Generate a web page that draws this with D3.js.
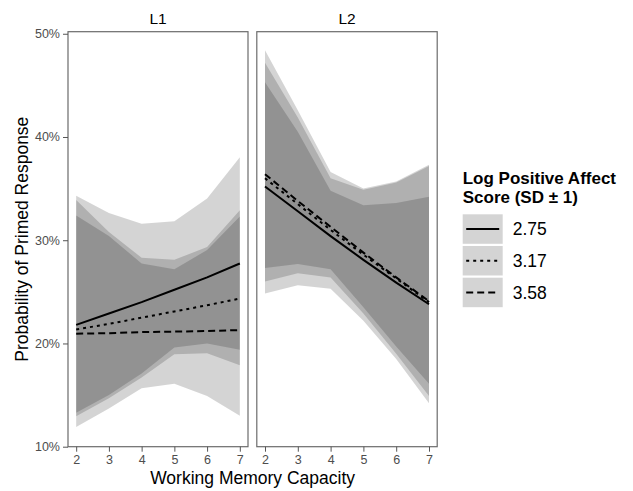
<!DOCTYPE html>
<html>
<head>
<meta charset="utf-8">
<title>primed response</title>
<script src="https://cdn.jsdelivr.net/npm/d3@7"></script>
<style>
  body { margin: 0; background: #fff; }
  text { font-family: "Liberation Sans", Arial, sans-serif; }
  .axis path { display: none; }
  .axis line { stroke: #555; }
  .axis text { fill: #4d4d4d; font-size: 12.5px; }
</style>
</head>
<body>
<script>
// working memory capacity (x) and levels
var wmc = [2, 3, 4, 5, 6, 7];
var xTicks = [2, 3, 4, 5, 6, 7];
var yTicks = [0.1, 0.2, 0.3, 0.4, 0.5];
var panelNames = ["L1", "L2"];
var levels = ["2.75", "3.17", "3.58"];
var dashes = [null, "3,4", "7,4"];

// L1 fitted values and bands (percent)
var l1Fit275 = [21.8, 22.9, 24.0, 25.2, 26.4, 27.75];
var l1Lo275  = [13.3, 15.0, 17.1, 19.6, 20.0, 19.4];
var l1Hi275  = [34.3, 32.65, 31.6, 31.85, 34.05, 38.05];
var l1Fit317 = [21.35, 21.9, 22.5, 23.1, 23.7, 24.35];
var l1Lo317  = [12.95, 14.7, 16.7, 18.95, 19.05, 17.9];
var l1Hi317  = [32.4, 30.4, 27.75, 27.2, 29.05, 32.3];
var l1Fit358 = [20.95, 21.0, 21.1, 21.15, 21.2, 21.3];
var l1Lo358  = [11.9, 13.7, 15.65, 16.1, 14.9, 13.0];
var l1Hi358  = [33.9, 30.8, 28.3, 28.1, 29.35, 32.9];

// L2 fitted values and bands (percent)
var l2Fit275 = [35.2, 32.8, 30.4, 28.1, 25.9, 23.8];
var l2Lo275  = [26.0, 26.8, 26.4, 22.9, 19.0, 14.9];
var l2Hi275  = [47.2, 41.9, 36.0, 34.9, 35.6, 37.2];
var l2Fit317 = [36.0, 33.5, 31.0, 28.6, 26.3, 24.0];
var l2Lo317  = [27.3, 27.7, 27.2, 23.5, 19.7, 16.1];
var l2Hi317  = [45.3, 40.5, 34.8, 33.4, 33.6, 34.2];
var l2Fit358 = [36.4, 33.8, 31.3, 28.8, 26.4, 24.1];
var l2Lo358  = [24.85, 25.65, 25.3, 22.2, 18.5, 14.2];
var l2Hi358  = [48.4, 42.6, 36.6, 35.0, 35.7, 37.3];

var series = [
  [[l1Fit275, l1Lo275, l1Hi275], [l1Fit317, l1Lo317, l1Hi317], [l1Fit358, l1Lo358, l1Hi358]],
  [[l2Fit275, l2Lo275, l2Hi275], [l2Fit317, l2Lo317, l2Hi317], [l2Fit358, l2Lo358, l2Hi358]]
];

var width = 633, height = 491;
var svg = d3.select("body").append("svg")
  .attr("width", width).attr("height", height);

var plotTop = 31.7, plotBottom = 446.7;
var panelX = [[68, 248], [256.8, 437.2]];

var y = d3.scaleLinear().domain([0.10, 0.502]).range([plotBottom, plotTop]);

panelNames.forEach(function(name, p) {
  var x = d3.scaleLinear().domain([1.75, 7.25]).range(panelX[p]);
  var g = svg.append("g");

  // ribbons
  series[p].forEach(function(s) {
    var area = d3.area()
      .x(function(d, i) { return x(wmc[i]); })
      .y0(function(d, i) { return y(s[1][i] / 100); })
      .y1(function(d, i) { return y(s[2][i] / 100); });
    g.append("path")
      .datum(wmc)
      .attr("d", area)
      .attr("fill", "#000")
      .attr("fill-opacity", 0.17);
  });

  // fitted lines
  series[p].forEach(function(s, k) {
    var line = d3.line()
      .x(function(d, i) { return x(wmc[i]); })
      .y(function(d) { return y(d / 100); });
    g.append("path")
      .datum(s[0])
      .attr("d", line)
      .attr("fill", "none")
      .attr("stroke", "#000")
      .attr("stroke-width", 2)
      .attr("stroke-dasharray", dashes[k]);
  });

  // panel border
  g.append("rect")
    .attr("x", panelX[p][0]).attr("y", plotTop)
    .attr("width", panelX[p][1] - panelX[p][0])
    .attr("height", plotBottom - plotTop)
    .attr("fill", "none")
    .attr("stroke", "#6b6b6b")
    .attr("stroke-width", 1.2);

  // strip label
  svg.append("text")
    .attr("x", (panelX[p][0] + panelX[p][1]) / 2)
    .attr("y", 23.5)
    .attr("text-anchor", "middle")
    .style("font-size", "15.5px")
    .text(name);

  // x axis
  svg.append("g")
    .attr("class", "axis")
    .attr("transform", "translate(0," + plotBottom + ")")
    .call(d3.axisBottom(x).tickValues(xTicks).tickFormat(d3.format("d")).tickSize(5).tickPadding(3));
});

// y axis
svg.append("g")
  .attr("class", "axis")
  .attr("transform", "translate(" + panelX[0][0] + ",0)")
  .call(d3.axisLeft(y).tickValues(yTicks).tickFormat(d3.format(".0%")).tickSize(5).tickPadding(3));

// axis titles
svg.append("text")
  .attr("x", (panelX[0][0] + panelX[1][1]) / 2)
  .attr("y", 484)
  .attr("text-anchor", "middle")
  .style("font-size", "17.5px")
  .text("Working Memory Capacity");

svg.append("text")
  .attr("transform", "translate(28," + (plotTop + plotBottom) / 2 + ") rotate(-90)")
  .attr("text-anchor", "middle")
  .style("font-size", "17.5px")
  .text("Probability of Primed Response");

// legend
var legend = svg.append("g").attr("transform", "translate(462.7,0)");
legend.append("text")
  .attr("x", 0).attr("y", 184)
  .style("font-size", "17px").style("font-weight", "bold")
  .text("Log Positive Affect");
legend.append("text")
  .attr("x", 0).attr("y", 203.3)
  .style("font-size", "17px").style("font-weight", "bold")
  .text("Score (SD \u00b1 1)");

levels.forEach(function(lv, k) {
  var ky = 214.3 + k * 31.7;
  legend.append("rect")
    .attr("x", 0).attr("y", ky)
    .attr("width", 40).attr("height", 29.5)
    .attr("fill", "#000").attr("fill-opacity", 0.17);
  legend.append("line")
    .attr("x1", 3.5).attr("x2", 36.5)
    .attr("y1", ky + 14.75).attr("y2", ky + 14.75)
    .attr("stroke", "#000").attr("stroke-width", 2)
    .attr("stroke-dasharray", dashes[k]);
  legend.append("text")
    .attr("x", 50).attr("y", ky + 14.75)
    .attr("dy", "0.36em")
    .style("font-size", "17.5px")
    .text(lv);
});
</script>
</body>
</html>
